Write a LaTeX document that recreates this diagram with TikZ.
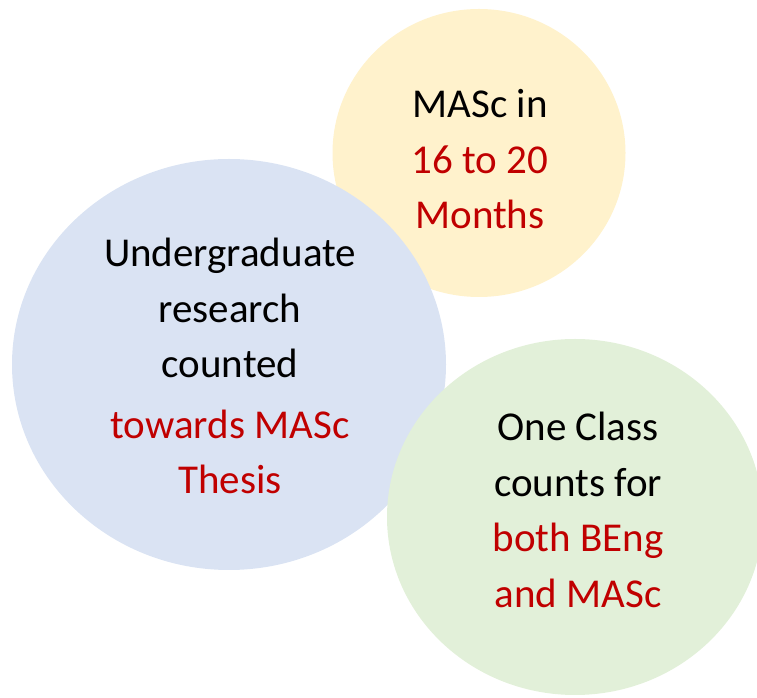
\documentclass[tikz,border=0pt]{standalone}
\usepackage{fontspec}
\setmainfont{Carlito}
\usetikzlibrary{shapes.geometric}
\definecolor{goldfill}{HTML}{FFF2CC}
\definecolor{bluefill}{HTML}{DAE3F3}
\definecolor{greenfill}{HTML}{E2F0D9}
\definecolor{darkred}{HTML}{C00000}
\begin{document}
\begin{tikzpicture}[x=1pt,y=1pt,
  blob/.style={ellipse, inner sep=0pt, draw=none},
  words/.style={align=center, inner sep=0pt, anchor=base,
    font=\fontsize{41}{55.5}\selectfont}]
\useasboundingbox (0,0) rectangle (757,698);
\begin{scope}
\clip (0,0) rectangle (757,698);
\node[blob, fill=goldfill, minimum width=293pt, minimum height=288pt] (gold) at (479,545) {};
\node[blob, fill=bluefill, minimum width=434pt, minimum height=411pt] (blue) at (229,333.5) {};
\node[blob, fill=greenfill, minimum width=376pt, minimum height=356pt] (green) at (575,181) {};
\end{scope}
\node[words] (goldtext) at (480,469) {MASc in\\\textcolor{darkred}{16 to 20}\\\textcolor{darkred}{Months}};
\node[words] (bluetext) at (230,204) {Undergraduate\\research\\counted\\[5pt]\textcolor{darkred}{towards MASc}\\\textcolor{darkred}{Thesis}};
\node[words] (greentext) at (578,90.5) {One Class\\counts for\\\textcolor{darkred}{both BEng}\\\textcolor{darkred}{and MASc}};
\end{tikzpicture}
\end{document}
